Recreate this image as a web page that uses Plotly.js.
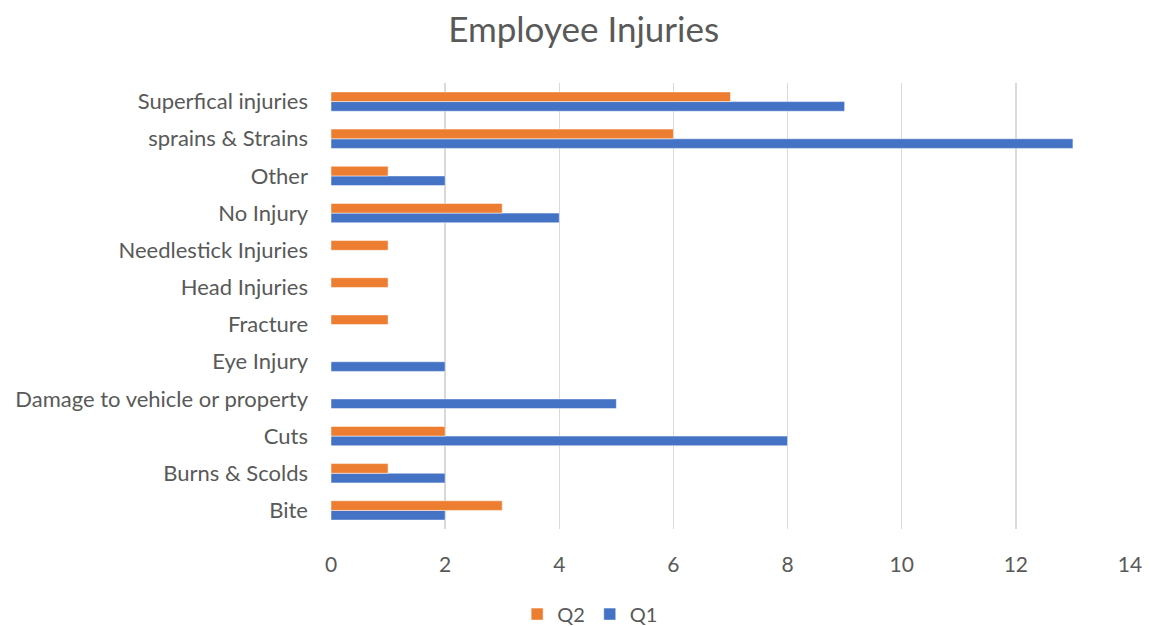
<!DOCTYPE html>
<html><head><meta charset="utf-8">
<script src="https://cdn.plot.ly/plotly-3.0.1.min.js"></script>
<style>html,body{margin:0;padding:0;background:#fff}#chart{width:1149px;height:626px}</style>
</head><body><div id="chart"></div>
<script>
const categories = ["Bite","Burns & Scolds","Cuts","Damage to vehicle or property","Eye Injury","Fracture","Head Injuries","Needlestick Injuries","No Injury","Other","sprains & Strains","Superfical injuries"];
const q1 = [2,2,8,5,2,0,0,0,4,2,13,9];
const q2 = [3,1,2,0,0,1,1,1,3,1,6,7];
const xTicks = [0,2,4,6,8,10,12,14];

const font = "Lato, 'Open Sans', sans-serif";
const traces = [
  {type:'bar', orientation:'h', name:'Q1', y:categories, x:q1,
   marker:{color:'#4472C4', line:{color:'#ffffff', width:0.5}}},
  {type:'bar', orientation:'h', name:'Q2', y:categories, x:q2,
   marker:{color:'#ED7D31', line:{color:'#ffffff', width:0.5}}}
];
const layout = {
  width:1149, height:626,
  margin:{l:331, r:19, t:83, b:97},
  paper_bgcolor:'#ffffff', plot_bgcolor:'#ffffff',
  font:{family:font, color:'#595959', size:20},
  title:{text:'Employee Injuries', x:0.508, xanchor:'center', y:0.952, yanchor:'middle',
         font:{family:font, size:35, color:'#595959'}},
  barmode:'group', bargap:0.48, bargroupgap:0,
  xaxis:{range:[0,14], tickvals:xTicks, ticktext:xTicks.map(String), showgrid:true,
         gridcolor:'#D9D9D9', gridwidth:1.5, zeroline:false, showline:false,
         ticks:'', ticklabelstandoff:21, tickfont:{size:21, color:'#595959'}},
  yaxis:{type:'category', categoryorder:'array', categoryarray:categories,
         showgrid:false, zeroline:false, showline:false, ticks:'',
         ticklabelstandoff:22, tickfont:{size:22, color:'#595959'}},
  legend:{orientation:'h', xref:'container', x:0.5136, xanchor:'center', yref:'container', y:0.019, yanchor:'middle',
          traceorder:'reversed', font:{size:20, color:'#595959'}, itemwidth:30},
  showlegend:true
};
Plotly.newPlot('chart', traces, layout, {displayModeBar:false, staticPlot:true});
</script></body></html>
